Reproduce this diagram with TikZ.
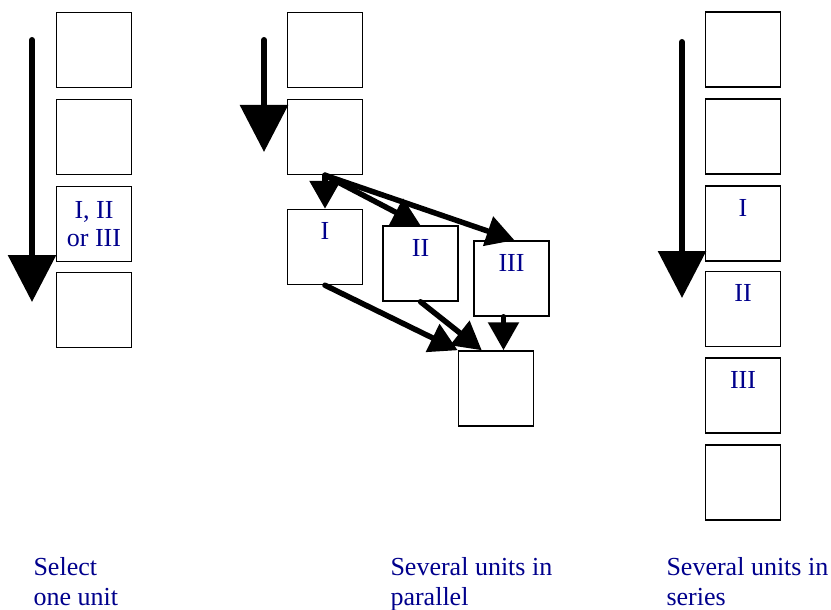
\documentclass[tikz,border=0pt]{standalone}
\usepackage{fontspec}
\setmainfont{Liberation Serif}
\usepackage{xcolor}
\usepackage{tikz}
\usetikzlibrary{arrows.meta}
\definecolor{unitblue}{RGB}{0,0,140}

\begin{document}
\begin{tikzpicture}[
    x=1pt, y=-1pt,
    box/.style={rectangle, draw=black, line width=1.5pt, minimum width=75pt, minimum height=75pt, inner sep=0pt, align=center, font=\fontsize{26}{28}\selectfont, text=unitblue},
    tag/.style={anchor=north, yshift=-12pt, inner sep=2pt, font=\fontsize{26}{28}\selectfont, text=unitblue},
    caption/.style={anchor=base west, align=left, font=\fontsize{26}{30}\selectfont, text=unitblue},
    bigarrow/.style={line width=6pt, line cap=round, -{Triangle[length=47pt, width=47pt]}},
    flow/.style={line width=5.5pt, line cap=round, -{Triangle[length=28pt, width=30pt]}}
]
\useasboundingbox (0,0) rectangle (831,610);

% Left: select one unit
\node[box] (sel1) at (94,50) {};
\node[box] (sel2) at (94,137) {};
\node[box] (sel3) at (94,224) {I, II\\or III};
\node[box] (sel4) at (94,310) {};
\coordinate (selfrom) at (32,40);
\coordinate (selto) at (32,302);
\draw[bigarrow] (selfrom) -- (selto);

% Middle: several units in parallel
\node[box] (par1) at (325,50) {};
\node[box] (par2) at (325,137) {};
\node[box, label={[tag]north:I}] (parI) at (325,247) {};
\node[box, label={[tag]north:II}] (parII) at (420.5,263.5) {};
\node[box, label={[tag]north:III}] (parIII) at (511.5,278.5) {};
\node[box] (parout) at (496,388.5) {};
\coordinate (parfrom) at (264,40);
\coordinate (parto) at (264,152);
\draw[bigarrow] (parfrom) -- (parto);
\draw[flow] (par2.south) -- (parI.north);
\draw[flow] (par2.south) -- (parII.north);
\draw[flow] (par2.south) -- ([xshift=3pt]parIII.north);
\draw[flow] (parI.south) -- (parout.north west);
\draw[flow] (parII.south) -- ([xshift=24pt]parout.north west);
\draw[flow] ([xshift=-8pt]parIII.south) -- ([xshift=-8pt]parIII.south |- parout.north);

% Right: several units in series
\node[box] (ser1) at (743,49.5) {};
\node[box] (ser2) at (743,136.5) {};
\node[box, label={[tag]north:I}] (serI) at (743,223.5) {};
\node[box, label={[tag]north:II}] (serII) at (743,309) {};
\node[box, label={[tag]north:III}] (serIII) at (743,395.5) {};
\node[box] (ser6) at (743,482.5) {};
\coordinate (serfrom) at (682,42);
\coordinate (serto) at (682,298);
\draw[bigarrow] (serfrom) -- (serto);

% Captions
\node[caption] (capsel) at (30,605) {Select\\one unit};
\node[caption] (cappar) at (387,605) {Several units in\\parallel};
\node[caption] (capser) at (663,605) {Several units in\\series};

\end{tikzpicture}
\end{document}
